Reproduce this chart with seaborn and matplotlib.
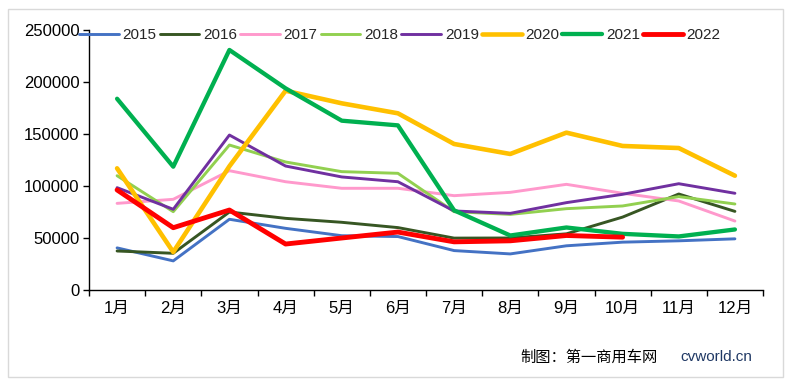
import numpy as np
import pandas as pd
import matplotlib
matplotlib.use("Agg")
import matplotlib.pyplot as plt
import seaborn as sns
from matplotlib.patches import Rectangle

# monthly sales
months = ["1月", "2月", "3月", "4月", "5月", "6月", "7月", "8月", "9月", "10月", "11月", "12月"]
y2015 = [40500, 28000, 68000, 59300, 52200, 51400, 37900, 34700, 42500, 46000, 47300, 49200]
y2016 = [37500, 35300, 75000, 68900, 65100, 60000, 49900, 50000, 54000, 70100, 92300, 75600]
y2017 = [83300, 87200, 114700, 104100, 97800, 97800, 90700, 93900, 101600, 93000, 85600, 66300]
y2018 = [109900, 75300, 139400, 123100, 113800, 112200, 75300, 72700, 78200, 80800, 89800, 82700]
y2019 = [98400, 77600, 149000, 119200, 108700, 104100, 76000, 73700, 84000, 92000, 102200, 93000]
y2020 = [117000, 36500, 119000, 191600, 179500, 169900, 140400, 130800, 151300, 138500, 136500, 109900]
y2021 = [183900, 118600, 230800, 193900, 162800, 158300, 76600, 52400, 60100, 54000, 51500, 58200]
y2022 = [96200, 59900, 76900, 44200, 50000, 55700, 46300, 47300, 52400, 50800]

years = ["2015", "2016", "2017", "2018", "2019", "2020", "2021", "2022"]
series = [y2015, y2016, y2017, y2018, y2019, y2020, y2021, y2022]
colors = ["#4472C4", "#375623", "#FF99CC", "#92D050", "#7030A0", "#FFC000", "#00B050", "#FF0000"]
widths = [2.1, 2.1, 2.1, 2.1, 2.1, 3.3, 3.1, 3.5]

sns.set_style("white")
plt.rcParams["font.family"] = ["Liberation Sans", "Noto Sans CJK SC", "DejaVu Sans"]

fig = plt.figure(figsize=(7.93, 3.86), dpi=100)
ax = fig.add_axes([89 / 793, 1 - 290 / 386, (763 - 89) / 793, (290 - 30) / 386])

for yr, vals, c, lw in zip(years, series, colors, widths):
    df = pd.DataFrame({"m": np.arange(len(vals)), "v": vals})
    sns.lineplot(data=df, x="m", y="v", ax=ax, color=c, lw=lw, label=yr, legend=False)

ax.set_xlim(-0.5, 11.5)
ax.set_ylim(0, 250000)
ax.set_xlabel("")
ax.set_ylabel("")

ax.set_xticks(np.arange(-0.5, 12, 1))
ax.set_xticklabels([])
ax.set_xticks(np.arange(12), minor=True)
ax.set_xticklabels(months, minor=True)
ax.tick_params(axis="x", which="major", direction="out", length=4, width=1, color="black", bottom=True)
ax.tick_params(axis="x", which="minor", length=0, pad=8, labelsize=12, labelcolor="black")

ax.set_yticks(np.arange(0, 250001, 50000))
ax.set_yticklabels([str(v) for v in range(0, 250001, 50000)])
ax.tick_params(axis="y", direction="out", length=4, width=1, color="black", left=True,
               pad=3, labelsize=12, labelcolor="black")

for s in ["top", "right"]:
    ax.spines[s].set_visible(False)
for s in ["left", "bottom"]:
    ax.spines[s].set_color("black")
    ax.spines[s].set_linewidth(1)
ax.grid(False)

handles, labels = ax.get_legend_handles_labels()
fig.legend(handles, labels, loc="upper left", bbox_to_anchor=(79 / 793, 1 - 28 / 386),
           ncol=8, frameon=False, fontsize=11, handlelength=2.6, handletextpad=0.25,
           columnspacing=0.2, borderpad=0, borderaxespad=0)

fig.text(520 / 793, 1 - 357 / 386, "制图：第一商用车网", fontsize=11, color="black",
         va="center", ha="left", family=["Noto Sans CJK SC", "DejaVu Sans"])
fig.text(680 / 793, 1 - 357 / 386, "cvworld.cn", fontsize=11, color="#1F3864",
         va="center", ha="left")

fig.patches.append(Rectangle((8 / 793, 1 - 377 / 386), 775 / 793, 368 / 386,
                             transform=fig.transFigure, fill=False, edgecolor="#D9D9D9", lw=1))

fig.savefig("out.png", dpi=100)
